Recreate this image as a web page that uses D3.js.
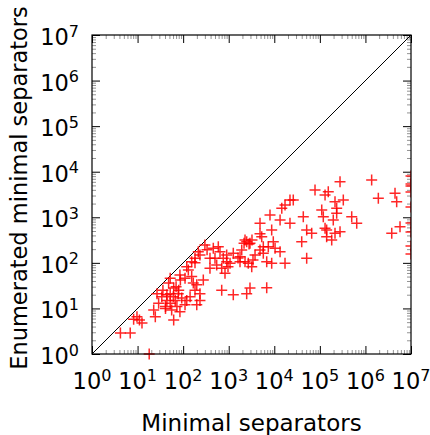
<!DOCTYPE html>
<html>
<head>
<meta charset="utf-8">
<script src="https://cdn.jsdelivr.net/npm/d3@7"></script>
<style>
    body { margin: 0; background: #fff; }
    svg text { font-family: "DejaVu Sans", sans-serif; fill: #000; }
</style>
</head>
<body>
<div id="container"></div>
<script>
// minimal separators (x) vs enumerated minimal separators (y)
const minimalSeps = [
    4.2, 6.9, 8.2, 11, 12.5, 9.7, 24.5, 22.6, 29, 26.7, 34, 48, 52, 62, 41, 52, 67, 73, 80, 62, 52, 44, 87,
    300, 215, 182, 154, 459, 591, 644, 760, 903, 388, 500, 545, 702, 903, 1070, 829, 1770, 2280, 2280,
    85, 110, 154, 167, 199, 277, 182, 234, 234, 199, 44, 61, 78, 93, 120, 142, 110, 41, 85, 56, 702, 1260, 2480, 388,
    78300, 130000, 26100, 17200, 14600, 8050, 110000, 119000, 43300, 13400, 22100, 4860, 8770, 130000, 51400, 66200,
    5300, 2480, 2930, 9510, 40000, 141000, 5740, 10400, 7390, 4860, 13400, 3780, 5740, 1930, 1770, 2690, 3200, 6820,
    8770, 17200, 51400, 6820, 2930,
    277000, 1370000, 153000, 215000, 327000, 234000, 234000, 500000, 644000, 197000, 141000, 215000, 277000, 182000,
    1920000, 4460000, 4850000, 3780000, 5740000,
    1e7, 1e7, 1e7, 1e7, 1e7, 1e7, 1e7, 1e7, 1e7, 18,
    2790, 3240, 2170, 120, 234, 965, 1260, 3410, 1600, 22100, 4860,
    182, 335, 130, 36, 70
];
const enumeratedSeps = [
    2.9, 2.9, 5.8, 5.6, 4.8, 6.6, 6.6, 9.2, 13, 21, 18, 36, 46, 5.6, 11, 13, 15, 11, 25, 28, 21, 15, 42,
    247, 176, 126, 106, 209, 226, 176, 126, 149, 126, 126, 90, 76, 106, 98, 59, 137, 106, 318,
    54, 46, 50, 36, 33, 42, 25, 21, 15, 12, 20, 18, 21, 17, 15, 18, 12, 10, 8.5, 9.2, 25, 20, 21, 76,
    3970, 3080, 2390, 1860, 1570, 1120, 1450, 1030, 1030, 872, 738, 738, 526, 573, 526, 445,
    375, 291, 269, 291, 291, 375, 226, 209, 226, 191, 176, 149, 162, 191, 106, 98, 82, 106,
    98, 98, 126, 28.5, 28,
    6040, 6580, 3650, 2200, 2390, 1570, 1220, 1030, 738, 872, 526, 445, 483, 318,
    2610, 3360, 2200, 445, 622,
    8050, 5380, 4860, 3590, 1680, 750, 475, 234, 156, 1,
    259, 318, 269, 82, 149, 82, 162, 116, 128, 2390, 437,
    100, 193, 70, 25, 30
];
const decades = [0, 1, 2, 3, 4, 5, 6, 7];
const minorSubs = [2, 3, 4, 5, 6, 7, 8, 9];

const width = 430,
    height = 435,
    plotLeft = 92, plotRight = 411, plotTop = 35, plotBottom = 354;

const data = minimalSeps.map((d, i) => ({ x: d, y: enumeratedSeps[i] }));

const xScale = d3.scaleLog().domain([1, 1e7]).range([plotLeft, plotRight]);
const yScale = d3.scaleLog().domain([1, 1e7]).range([plotBottom, plotTop]);

const majors = decades.map(k => Math.pow(10, k));
const minors = [];
decades.slice(0, -1).forEach(k => minorSubs.forEach(s => minors.push(s * Math.pow(10, k))));

const svg = d3.select("#container").append("svg")
    .attr("width", width)
    .attr("height", height);

svg.append("rect").attr("width", width).attr("height", height).attr("fill", "#fff");

svg.append("clipPath").attr("id", "plotclip")
    .append("rect")
    .attr("x", plotLeft).attr("y", plotTop)
    .attr("width", plotRight - plotLeft).attr("height", plotBottom - plotTop + 6);

// ticks on all four sides, pointing inward
function drawTicks(axisFn, scale, transform, values, size, color, w) {
    const g = svg.append("g")
        .attr("transform", transform)
        .call(axisFn(scale).tickValues(values).tickSize(-size).tickSizeOuter(0).tickFormat(""));
    g.select(".domain").remove();
    g.selectAll(".tick line").attr("stroke", color).attr("stroke-width", w);
}
drawTicks(d3.axisBottom, xScale, `translate(0,${plotBottom})`, minors, 4, "#777", 0.8);
drawTicks(d3.axisTop, xScale, `translate(0,${plotTop})`, minors, 4, "#777", 0.8);
drawTicks(d3.axisLeft, yScale, `translate(${plotLeft},0)`, minors, 4, "#777", 0.8);
drawTicks(d3.axisRight, yScale, `translate(${plotRight},0)`, minors, 4, "#777", 0.8);
drawTicks(d3.axisBottom, xScale, `translate(0,${plotBottom})`, majors, 8, "#000", 1);
drawTicks(d3.axisTop, xScale, `translate(0,${plotTop})`, majors, 8, "#000", 1);
drawTicks(d3.axisLeft, yScale, `translate(${plotLeft},0)`, majors, 8, "#000", 1);
drawTicks(d3.axisRight, yScale, `translate(${plotRight},0)`, majors, 8, "#000", 1);

// y = x reference line
const line = d3.line()
    .x(d => xScale(d))
    .y(d => yScale(d));
svg.append("path")
    .attr("d", line([1, 1e7]))
    .attr("stroke", "#000")
    .attr("stroke-width", 1)
    .attr("fill", "none");

// '+' markers
const marks = svg.append("g").attr("clip-path", "url(#plotclip)");
const r = 5.5;
marks.selectAll("path.pt")
    .data(data)
    .enter().append("path")
    .attr("class", "pt")
    .attr("d", d => {
        const cx = xScale(d.x), cy = yScale(d.y);
        return `M${cx - r},${cy}H${cx + r}M${cx},${cy - r}V${cy + r}`;
    })
    .attr("stroke", "#ff0000")
    .attr("stroke-opacity", 0.85)
    .attr("stroke-width", 1.5)
    .attr("fill", "none");

// frame
svg.append("rect")
    .attr("x", plotLeft).attr("y", plotTop)
    .attr("width", plotRight - plotLeft).attr("height", plotBottom - plotTop)
    .attr("fill", "none")
    .attr("stroke", "#000")
    .attr("stroke-width", 1.2);

// tick labels 10^k
function powLabel(sel, k) {
    sel.append("tspan").text("10");
    sel.append("tspan").attr("font-size", 16).attr("dy", -8.5).text(k);
}
svg.selectAll("text.xlab")
    .data(decades)
    .enter().append("text")
    .attr("class", "xlab")
    .attr("x", k => xScale(Math.pow(10, k)))
    .attr("y", 389)
    .attr("text-anchor", "middle")
    .attr("font-size", 22.5)
    .each(function (k) { powLabel(d3.select(this), k); });

svg.selectAll("text.ylab")
    .data(decades)
    .enter().append("text")
    .attr("class", "ylab")
    .attr("x", 79)
    .attr("y", k => yScale(Math.pow(10, k)) + 10)
    .attr("text-anchor", "end")
    .attr("font-size", 22.5)
    .each(function (k) { powLabel(d3.select(this), k); });

// axis titles
svg.append("text")
    .attr("x", (plotLeft + plotRight) / 2)
    .attr("y", 431)
    .attr("text-anchor", "middle")
    .attr("font-size", 23)
    .text("Minimal separators");

svg.append("text")
    .attr("transform", "translate(27,188) rotate(-90)")
    .attr("text-anchor", "middle")
    .attr("font-size", 22.5)
    .text("Enumerated minimal separators");
</script>
</body>
</html>
